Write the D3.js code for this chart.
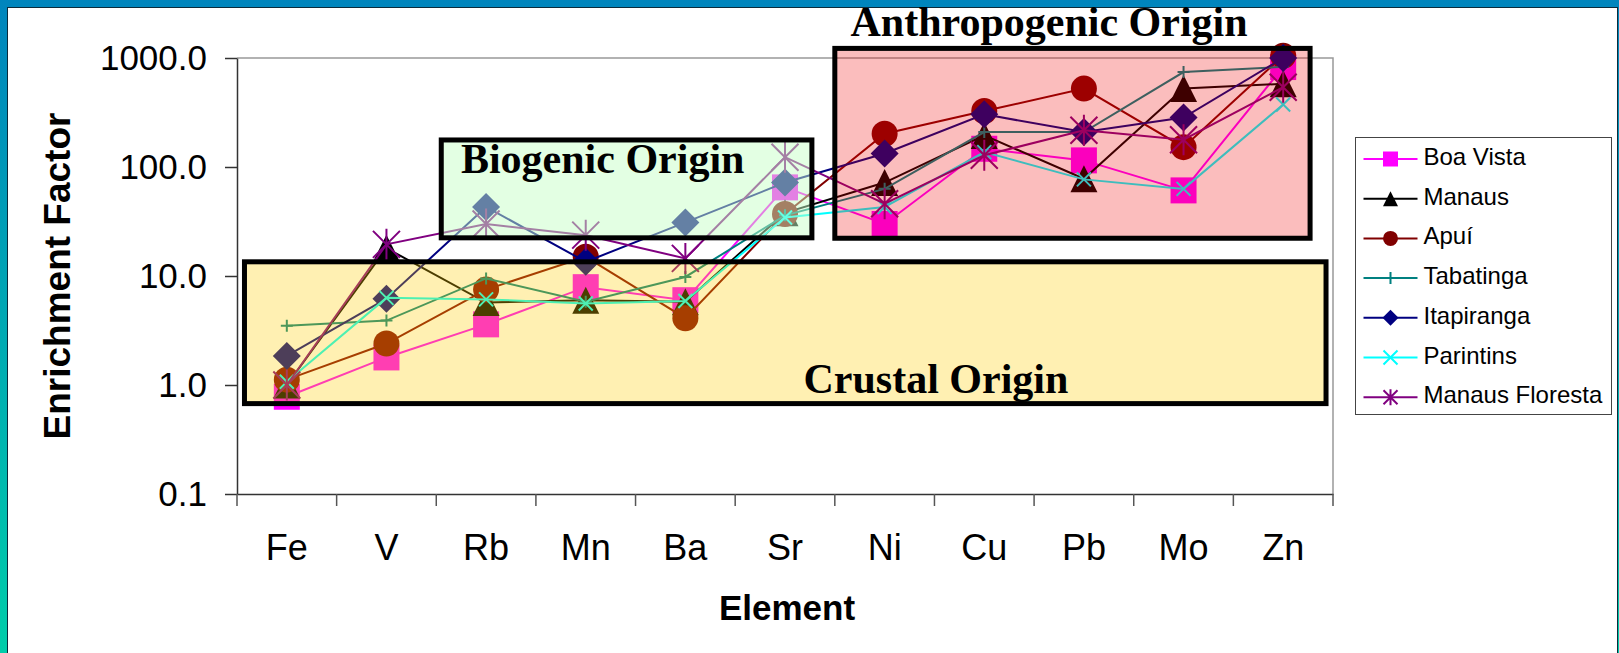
<!DOCTYPE html>
<html>
<head>
<meta charset="utf-8">
<script src="https://cdn.jsdelivr.net/npm/d3@7"></script>
<style>
body{margin:0;padding:0;overflow:hidden;background:#fff;}
</style>
</head>
<body>
<svg id="chart"></svg>
<script>
// element categories (x axis)
var elements = ["Fe","V","Rb","Mn","Ba","Sr","Ni","Cu","Pb","Mo","Zn"];

// enrichment factor per site
var boaVista       = [0.78, 1.79, 3.6, 7.9, 6.0, 65, 30, 147, 115, 61, 826];
var manaus         = [1.0, 18, 5.7, 6.0, 5.8, 38, 72, 195, 78, 524, 580];
var apui           = [1.12, 2.4, 7.5, 15, 4.1, 37, 202, 326, 524, 152, 1050];
var tabatinga      = [3.5, 3.9, 9.5, 5.8, 9.8, 36, 63, 209, 209, 743, 830];
var itapiranga     = [1.85, 6.2, 43, 13.5, 31, 72, 133, 304, 209, 284, 1000];
var parintins      = [1.07, 6.3, 6.1, 5.6, 5.9, 34.4, 43, 137, 77, 63, 375];
var manausFloresta = [1.0, 19.5, 30, 23.7, 14.5, 123, 46, 128, 217, 178, 540];

var seriesNames = ["Boa Vista","Manaus","Apuí","Tabatinga","Itapiranga","Parintins","Manaus Floresta"];
var yTicks = [0.1, 1, 10, 100, 1000];

// origin regions: x extent in category units, y extent in enrichment factor
var regionNames = ["Crustal Origin","Biogenic Origin","Anthropogenic Origin"];
var regionFrom  = [0.075, 2.05, 6.0];
var regionTo    = [10.93, 5.77, 10.77];
var regionLow   = [0.675, 22.4, 22.2];
var regionHigh  = [13.5, 177, 1225];

var width = 1619, height = 653;
var fontSans = "'Liberation Sans', Arial, sans-serif";
var fontSerif = "'Liberation Serif', 'Times New Roman', serif";

var svg = d3.select("#chart").attr("width", width).attr("height", height);

// frame
var defs = svg.append("defs");
var grad = defs.append("linearGradient").attr("id", "frame")
    .attr("x1", 0).attr("y1", 0).attr("x2", 0).attr("y2", 1);
grad.append("stop").attr("offset", "0%").attr("stop-color", "#0085BD");
grad.append("stop").attr("offset", "100%").attr("stop-color", "#00CDAA");
svg.append("rect").attr("width", width).attr("height", height).attr("fill", "url(#frame)");
svg.append("rect")
    .attr("x", 7.5).attr("y", 7.5)
    .attr("width", 1610).attr("height", 660)
    .attr("fill", "#fff")
    .attr("stroke", "#0b2b3b")
    .attr("stroke-width", 1);

var x = d3.scaleBand().domain(elements).range([237, 1333]);
var xi = d3.scaleLinear().domain([0, elements.length]).range(x.range());
var y = d3.scaleLog().domain([0.1, 1000]).range([494, 58]);

// plot border top/right
svg.append("path")
    .attr("d", "M" + xi(0) + "," + y(1000) + "H" + xi(elements.length) + "V" + y(0.1))
    .attr("fill", "none")
    .attr("stroke", "#999")
    .attr("stroke-width", 1.5);

// y axis
var yAxis = svg.append("g")
    .attr("transform", "translate(" + xi(0) + ",0)")
    .call(d3.axisLeft(y).tickValues(yTicks).tickFormat(d3.format(".1f"))
        .tickSize(12).tickSizeOuter(0).tickPadding(18));
yAxis.select(".domain").attr("stroke", "#333").attr("stroke-width", 1.5);
yAxis.selectAll(".tick line").attr("stroke", "#333").attr("stroke-width", 1.5);
yAxis.selectAll("text")
    .attr("font-family", fontSans)
    .attr("font-size", "35px")
    .attr("fill", "#000");

// x axis
var xAxis = svg.append("g")
    .attr("transform", "translate(0," + y(0.1) + ")")
    .call(d3.axisBottom(x).tickSize(0).tickSizeOuter(0).tickPadding(40));
xAxis.select(".domain").attr("stroke", "#333").attr("stroke-width", 1.5);
xAxis.selectAll("text")
    .attr("font-family", fontSans)
    .attr("font-size", "36px")
    .attr("fill", "#000");

svg.append("g").selectAll("line")
    .data(d3.range(elements.length + 1))
    .enter().append("line")
    .attr("x1", function(d) { return xi(d); })
    .attr("x2", function(d) { return xi(d); })
    .attr("y1", y(0.1))
    .attr("y2", y(0.1) + 12)
    .attr("stroke", "#555")
    .attr("stroke-width", 1.5);

// axis titles
svg.append("text")
    .attr("transform", "translate(70," + ((y(0.1) + y(1000)) / 2) + ") rotate(-90)")
    .attr("text-anchor", "middle")
    .attr("font-family", fontSans)
    .attr("font-weight", "bold")
    .attr("font-size", "37px")
    .text("Enrichment Factor");

svg.append("text")
    .attr("x", 787)
    .attr("y", 620)
    .attr("text-anchor", "middle")
    .attr("font-family", fontSans)
    .attr("font-weight", "bold")
    .attr("font-size", "35px")
    .text("Element");

// markers
function markerPath(type, r) {
    if (type == "square") return "M" + (-r) + "," + (-r) + "h" + 2 * r + "v" + 2 * r + "h" + (-2 * r) + "Z";
    if (type == "triangle") return "M0," + (-r) + "L" + r + "," + r + "L" + (-r) + "," + r + "Z";
    if (type == "circle") return "M" + (-r) + ",0A" + r + "," + r + " 0 1,0 " + r + ",0A" + r + "," + r + " 0 1,0 " + (-r) + ",0Z";
    if (type == "diamond") return "M0," + (-r) + "L" + r + ",0L0," + r + "L" + (-r) + ",0Z";
    if (type == "plus") return "M" + (-r) + ",0H" + r + "M0," + (-r) + "V" + r;
    if (type == "x") return "M" + (-r) + "," + (-r) + "L" + r + "," + r + "M" + (-r) + "," + r + "L" + r + "," + (-r);
    // asterisk
    return "M" + (-r) + "," + (-r) + "L" + r + "," + r + "M" + (-r) + "," + r + "L" + r + "," + (-r) + "M0," + (-r * 1.15) + "V" + (r * 1.15);
}

var series = [
    {name: seriesNames[0], values: boaVista,       color: "#FF00FF", marker: "square",   size: 13,   legSize: 7.5},
    {name: seriesNames[1], values: manaus,         color: "#000000", marker: "triangle", size: 13.5, legSize: 7.5},
    {name: seriesNames[2], values: apui,           color: "#800000", marker: "circle",   size: 13,   legSize: 7.5},
    {name: seriesNames[3], values: tabatinga,      color: "#008080", marker: "plus",     size: 6,    legSize: 6},
    {name: seriesNames[4], values: itapiranga,     color: "#000080", marker: "diamond",  size: 14,   legSize: 8},
    {name: seriesNames[5], values: parintins,      color: "#00FFFF", marker: "x",        size: 7,    legSize: 7},
    {name: seriesNames[6], values: manausFloresta, color: "#800080", marker: "asterisk", size: 13.5, legSize: 7}
];
var filled = {square: true, triangle: true, circle: true, diamond: true};

var line = d3.line()
    .x(function(d, i) { return x(elements[i]) + x.bandwidth() / 2; })
    .y(function(d) { return y(d); });

var plot = svg.append("g");
series.forEach(function(s) {
    plot.append("path")
        .attr("d", line(s.values))
        .attr("fill", "none")
        .attr("stroke", s.color)
        .attr("stroke-width", 2);

    plot.append("g").selectAll("path")
        .data(s.values)
        .enter().append("path")
        .attr("transform", function(d, i) {
            return "translate(" + (x(elements[i]) + x.bandwidth() / 2) + "," + y(d) + ")";
        })
        .attr("d", markerPath(s.marker, s.size))
        .attr("fill", filled[s.marker] ? s.color : "none")
        .attr("stroke", filled[s.marker] ? "none" : s.color)
        .attr("stroke-width", 2);
});

// origin regions drawn over the data, translucent
var regionFill = ["rgb(255,204,0)", "rgb(200,255,200)", "rgb(240,0,0)"];
var regionOpacity = [0.3, 0.5, 0.26];
var regionLabelAt = [7.015, 3.67, 8.15];
var regionLabelEF = [0.843, 89, 1590];

regionNames.forEach(function(name, i) {
    var rx = xi(regionFrom[i]), rw = xi(regionTo[i]) - rx;
    var ry = y(regionHigh[i]), rh = y(regionLow[i]) - ry;
    svg.append("rect")
        .attr("x", rx).attr("y", ry).attr("width", rw).attr("height", rh)
        .attr("fill", regionFill[i])
        .attr("fill-opacity", regionOpacity[i]);
    svg.append("rect")
        .attr("x", rx).attr("y", ry).attr("width", rw).attr("height", rh)
        .attr("fill", "none")
        .attr("stroke", "#000")
        .attr("stroke-width", 5);
});
regionNames.forEach(function(name, i) {
    svg.append("text")
        .attr("x", xi(regionLabelAt[i]))
        .attr("y", y(regionLabelEF[i]))
        .attr("text-anchor", "middle")
        .attr("font-family", fontSerif)
        .attr("font-weight", "bold")
        .attr("font-size", "42px")
        .text(name);
});

// legend
var legend = svg.append("g").attr("transform", "translate(1355.5,137.5)");
legend.append("rect")
    .attr("width", 256).attr("height", 277)
    .attr("fill", "#fff")
    .attr("stroke", "#444")
    .attr("stroke-width", 1);

var item = legend.selectAll(".item")
    .data(series)
    .enter().append("g")
    .attr("class", "item")
    .attr("transform", function(d, i) { return "translate(0," + (21.5 + i * 39.7) + ")"; });

item.append("line")
    .attr("x1", 8).attr("x2", 62)
    .attr("stroke", function(d) { return d.color; })
    .attr("stroke-width", 2);

item.append("path")
    .attr("transform", "translate(35,0)")
    .attr("d", function(d) { return markerPath(d.marker, d.legSize); })
    .attr("fill", function(d) { return filled[d.marker] ? d.color : "none"; })
    .attr("stroke", function(d) { return filled[d.marker] ? "none" : d.color; })
    .attr("stroke-width", 2);

item.append("text")
    .attr("x", 68)
    .attr("y", 6)
    .attr("font-family", fontSans)
    .attr("font-size", "24px")
    .attr("fill", "#000")
    .text(function(d) { return d.name; });
</script>
</body>
</html>
